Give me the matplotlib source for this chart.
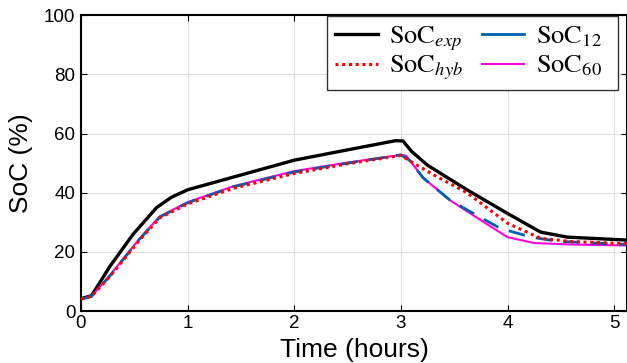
import matplotlib
matplotlib.use("Agg")
import matplotlib.pyplot as plt
from matplotlib.lines import Line2D

# values (time in hours, SoC in %)
t_exp = [0, 0.1, 0.27, 0.49, 0.71, 0.85, 1.0, 1.43, 2.0, 2.5, 2.95, 3.02, 3.1, 3.25, 3.62, 4.0, 4.31, 4.56, 5.12]
soc_exp = [4.2, 5.2, 15, 26, 35, 38.5, 41, 45.3, 51, 54.5, 57.6, 57.5, 54, 49.3, 41, 33, 26.7, 25, 24]

t_hyb = [0, 0.1, 0.27, 0.55, 0.74, 1.0, 1.43, 2.0, 2.5, 3.0, 3.12, 3.31, 3.62, 4.0, 4.31, 4.6, 5.12]
soc_hyb = [4, 5, 11.6, 24, 31.5, 36.2, 41.5, 46.5, 49.8, 52.6, 50, 46, 40, 29.7, 24.6, 23.5, 22.8]

t_12 = [0, 0.1, 0.27, 0.55, 0.74, 1.0, 1.43, 2.0, 2.5, 3.0, 3.08, 3.21, 3.46, 3.74, 3.93, 4.22, 4.47, 5.12]
soc_12 = [4, 5, 11.8, 24.3, 31.8, 36.6, 42, 47, 50, 52.8, 51, 45, 37.5, 31.8, 28, 25, 23.6, 22.5]

t_60 = [0, 0.1, 0.27, 0.55, 0.74, 1.0, 1.43, 2.0, 2.5, 3.0, 3.05, 3.21, 3.46, 3.75, 4.0, 4.25, 4.6, 5.12]
soc_60 = [4, 5, 12, 24.5, 32, 36.8, 42.2, 47.3, 50.2, 52.8, 52.5, 45, 37.5, 30.7, 25, 23, 22.5, 22.2]

labels = [r"$\mathrm{SoC}_{exp}$", r"$\mathrm{SoC}_{hyb}$", r"$\mathrm{SoC}_{12}$", r"$\mathrm{SoC}_{60}$"]
xticks = [0, 1, 2, 3, 4, 5]
yticks = [0, 20, 40, 60, 80, 100]

plt.rcParams["font.family"] = ["Liberation Sans", "DejaVu Sans"]
plt.rcParams["mathtext.fontset"] = "stix"

fig = plt.figure(figsize=(6.27, 3.63), dpi=100)
ax = fig.add_axes([0.129, 0.143, 0.871, 0.815])

ax.plot(t_exp, soc_exp, color="black", lw=2.4)
ax.plot(t_hyb, soc_hyb, color="red", lw=2.2, ls=(0, (1, 1.2)), zorder=4)
ax.plot(t_12, soc_12, color="#0060b0", lw=2.0, ls=(0, (6, 4)), zorder=3)
ax.plot(t_60, soc_60, color="#ff00dd", lw=1.5, zorder=2)

ax.set_xlim(0, 5.12)
ax.set_ylim(0, 100)
ax.set_xticks(xticks)
ax.set_yticks(yticks)
ax.grid(True, color="#e0e0e0", lw=0.8)
ax.set_axisbelow(True)
ax.tick_params(direction="in", top=True, right=True, labelsize=13.5, length=4)
ax.tick_params(axis="x", pad=3)
ax.tick_params(axis="y", pad=4)
for s in ax.spines.values():
    s.set_linewidth(1.5)
ax.set_xlabel("Time (hours)", fontsize=19, labelpad=4)
ax.set_ylabel("SoC (%)", fontsize=19, labelpad=8)

# legend handles (solid in the legend, like the reference)
handles = [
    Line2D([], [], color="black", lw=2.4),
    Line2D([], [], color="red", lw=2.2, ls=(0, (1, 1.2))),
    Line2D([], [], color="#0060b0", lw=2.0),
    Line2D([], [], color="#ff00dd", lw=1.5),
]
# same placeholder text everywhere so both columns get equal row heights
leg = ax.legend(handles, [labels[1]] * 4, ncol=2, loc="upper right",
                bbox_to_anchor=(618 / 627, 1 - 16 / 363),
                bbox_transform=fig.transFigure, borderaxespad=0, fontsize=19,
                fancybox=False, edgecolor="#333333", framealpha=1,
                handlelength=1.6, columnspacing=0.7, labelspacing=0.05,
                borderpad=0.3, handletextpad=0.45)
leg.get_frame().set_linewidth(1.0)

fig.canvas.draw()
for t, lab in zip(leg.get_texts(), labels):
    t.set_alpha(0)
    real = fig.text(0, 0, lab, fontsize=19, ha=t.get_ha(), va=t.get_va(), zorder=10)
    real.set_transform(t.get_transform())
    real.set_position(t.get_position())

fig.savefig("out.png", dpi=100)
